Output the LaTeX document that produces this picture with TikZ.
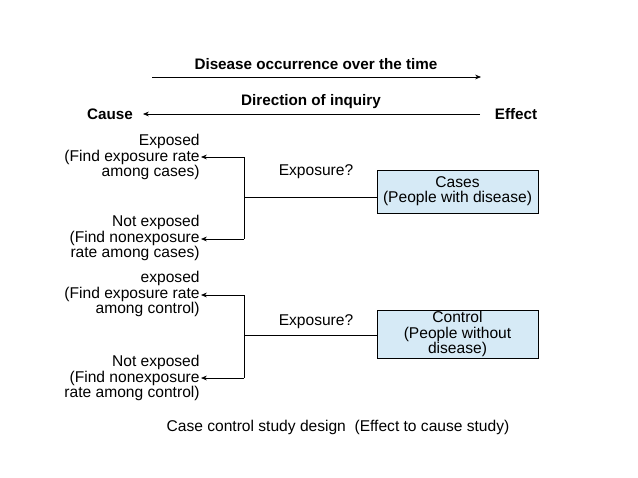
\documentclass[tikz,border=0pt]{standalone}
\usepackage{fontspec}
\setmainfont{Liberation Sans}
\usepackage{tikz}
\usetikzlibrary{positioning}
\usetikzlibrary{arrows.meta}
\definecolor{boxblue}{RGB}{214,234,246}
\tikzset{
  lbl/.style={inner sep=1pt, font=\fontsize{13.3}{15}\selectfont},
  head/.style={lbl, font=\fontsize{13}{15}\selectfont\bfseries},
  side/.style={lbl, align=right, anchor=east, font=\fontsize{13.3}{13.6}\selectfont},
  group/.style={rectangle, draw=black, fill=boxblue, align=center, inner sep=1pt, font=\fontsize{13.3}{13}\selectfont},
  arr/.style={-{Stealth[length=5pt,width=4pt]}, semithick},
  conn/.style={semithick}
}
\begin{document}
\begin{tikzpicture}[x=0.03cm,y=-0.03cm]
\useasboundingbox (0,0) rectangle (638,478);

% top arrows
\node [head] (occ) at (316,64) {Disease occurrence over the time};
\coordinate (occL) at (152,77);
\coordinate (occR) at (481,77);
\draw [arr] (occL) -- (occR);
\node [head] (inq) at (311,102) {Direction of inquiry};
\node [head] (cause) at (110,114) {Cause};
\node [head] (effect) at (516,114) {Effect};
\coordinate (inqR) at (480,114);
\coordinate (inqL) at (143,114);
\draw [arr] (inqR) -- (inqL);

% cases
\node [group, minimum width=161*0.03cm, minimum height=43*0.03cm] (cases) at (457.5,191.5) {Cases\\(People with disease)};
\node [lbl] (exq1) at (316,172) {Exposure?};
\node [side] (exp1) at (201,157) {Exposed\\(Find exposure rate\\among cases)};
\node [side] (nexp1) at (201,238) {Not exposed\\(Find nonexposure\\rate among cases)};
\coordinate (br1t) at (244,157);
\coordinate (br1b) at (244,239);
\coordinate (br1m) at (244,197);
\draw [conn] (br1t) -- (br1b);
\draw [conn] (cases.west |- br1m) -- (br1m);
\draw [arr] (br1t) -- (exp1.east |- br1t);
\draw [arr] (br1b) -- (nexp1.east |- br1b);

% control
\node [group, minimum width=161*0.03cm, minimum height=48*0.03cm] (control) at (457.5,334) {Control\\(People without\\disease)};
\node [lbl] (exq2) at (316,322) {Exposure?};
\node [side] (exp2) at (201,294) {exposed\\(Find exposure rate\\among control)};
\node [side] (nexp2) at (201,378) {Not exposed\\(Find nonexposure\\rate among control)};
\coordinate (br2t) at (244,295);
\coordinate (br2b) at (244,378);
\coordinate (br2m) at (244,335);
\draw [conn] (br2t) -- (br2b);
\draw [conn] (control.west |- br2m) -- (br2m);
\draw [arr] (br2t) -- (exp2.east |- br2t);
\draw [arr] (br2b) -- (nexp2.east |- br2b);

\node [lbl] (cap) at (338,427) {Case control study design\ \ (Effect to cause study)};
\end{tikzpicture}
\end{document}
